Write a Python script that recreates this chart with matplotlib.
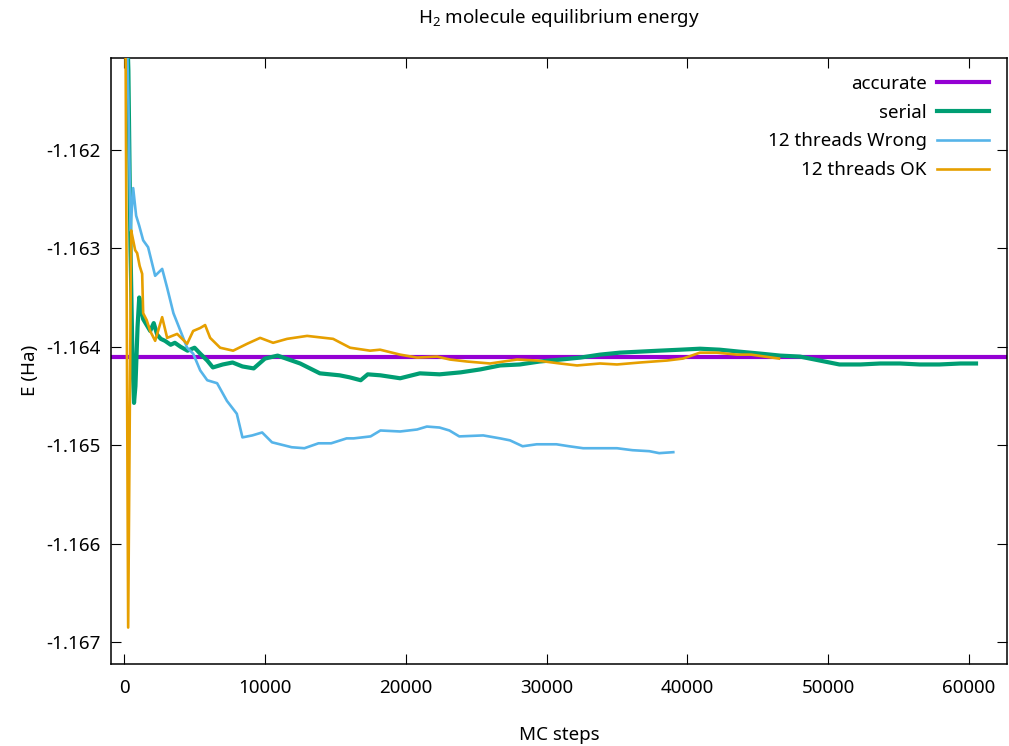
import numpy as np
import matplotlib
matplotlib.use("Agg")
import matplotlib.pyplot as plt

plt.rcParams['font.family'] = ['Noto Sans', 'DejaVu Sans']
plt.rcParams['mathtext.fontset'] = 'custom'
plt.rcParams['mathtext.rm'] = 'Noto Sans'
plt.rcParams['mathtext.it'] = 'Noto Sans:italic'

FS = 13.5

# reference energy
accurate_e = -1.16410

# serial run
serial_steps = [50, 300, 450, 600, 700, 800, 950, 1070, 1200, 1350, 1600, 1850, 2100,
                2350, 2600, 2900, 3300, 3600, 4000, 4500, 5000, 5400, 5900, 6300, 7000,
                7700, 8400, 9200, 10000, 10900, 11700, 12500, 13200, 13900, 15300, 16000,
                16800, 17300, 18200, 19600, 21000, 22400, 23900, 25300, 26700, 28100,
                29500, 31000, 32400, 33800, 35200, 36600, 38000, 39500, 40900, 42300,
                43700, 45200, 46600, 48000, 49400, 50800, 52300, 53700, 55100, 56500,
                57900, 59400, 60500]
serial_e = [-1.16000, -1.16120, -1.16300, -1.16420, -1.16457, -1.16440, -1.16380,
            -1.16350, -1.16362, -1.16372, -1.16378, -1.16384, -1.16376, -1.16388,
            -1.16392, -1.16394, -1.16398, -1.16396, -1.16400, -1.16404, -1.16401,
            -1.16407, -1.16414, -1.16421, -1.16418, -1.16416, -1.16420, -1.16422,
            -1.16412, -1.16409, -1.16413, -1.16417, -1.16422, -1.16427, -1.16429,
            -1.16431, -1.16434, -1.16428, -1.16429, -1.16432, -1.16427, -1.16428,
            -1.16426, -1.16423, -1.16419, -1.16418, -1.16415, -1.16413, -1.16411,
            -1.16408, -1.16406, -1.16405, -1.16404, -1.16403, -1.16402, -1.16403,
            -1.16405, -1.16407, -1.16409, -1.16410, -1.16414, -1.16418, -1.16418,
            -1.16417, -1.16417, -1.16418, -1.16418, -1.16417, -1.16417]

# 12 threads, wrong seeding
wrong_steps = [70, 300, 450, 640, 850, 1065, 1350, 1700, 2200, 2700, 3050, 3500, 4000,
               4470, 4900, 5400, 5900, 6600, 7300, 8000, 8400, 9100, 9800, 10500, 11900,
               12800, 13800, 14700, 15800, 16300, 17500, 18200, 19600, 20800, 21500,
               22400, 23100, 23800, 25500, 26700, 27400, 28300, 29300, 30700, 31600,
               32600, 35000, 36100, 37300, 38000, 39000]
wrong_e = [-1.16000, -1.16150, -1.16282, -1.16239, -1.16267, -1.16277, -1.16292,
           -1.16299, -1.16328, -1.16321, -1.16340, -1.16366, -1.16384, -1.16401,
           -1.16407, -1.16424, -1.16434, -1.16437, -1.16455, -1.16468, -1.16492,
           -1.16490, -1.16487, -1.16497, -1.16502, -1.16503, -1.16498, -1.16498,
           -1.16493, -1.16493, -1.16491, -1.16485, -1.16486, -1.16484, -1.16481,
           -1.16482, -1.16485, -1.16491, -1.16490, -1.16493, -1.16495, -1.16501,
           -1.16499, -1.16499, -1.16501, -1.16503, -1.16503, -1.16505, -1.16506,
           -1.16508, -1.16507]

# 12 threads, fixed
ok_steps = [70, 284, 497, 640, 781, 923, 1100, 1278, 1349, 1600, 1846, 2201, 2698, 3053,
            3763, 4473, 4899, 5396, 5750, 6106, 6816, 7739, 8733, 9656, 10579, 11573,
            12993, 14839, 16046, 17466, 18176, 19596, 20803, 22223, 23146, 24353, 25986,
            27903, 29323, 30956, 32163, 33796, 35003, 36636, 38553, 39689, 40896, 42103,
            43523, 44517, 46505]
ok_e = [-1.16000, -1.16685, -1.16282, -1.16292, -1.16302, -1.16305, -1.16318, -1.16326,
        -1.16366, -1.16373, -1.16384, -1.16394, -1.16370, -1.16391, -1.16387, -1.16397,
        -1.16384, -1.16381, -1.16378, -1.16391, -1.16401, -1.16404, -1.16397, -1.16391,
        -1.16396, -1.16392, -1.16389, -1.16392, -1.16401, -1.16404, -1.16403, -1.16408,
        -1.16411, -1.16410, -1.16413, -1.16415, -1.16417, -1.16413, -1.16414, -1.16417,
        -1.16419, -1.16417, -1.16418, -1.16416, -1.16414, -1.16412, -1.16406, -1.16406,
        -1.16408, -1.16408, -1.16412]

x_ticks = [0, 10000, 20000, 30000, 40000, 50000, 60000]
y_ticks = [-1.167, -1.166, -1.165, -1.164, -1.163, -1.162]

fig = plt.figure(figsize=(10.09, 7.46), dpi=100)
ax = fig.add_axes([0.1105, 0.1099, 0.8875, 0.8123])

ax.axhline(accurate_e, color='#9400d3', lw=3.0, label='accurate', zorder=2)
ax.plot(serial_steps, serial_e, color='#009e73', lw=3.0, label='serial', zorder=3)
ax.plot(wrong_steps, wrong_e, color='#56b4e9', lw=1.9, label='12 threads Wrong', zorder=4)
ax.plot(ok_steps, ok_e, color='#e69f00', lw=1.9, label='12 threads OK', zorder=5)

ax.set_xlim(-900, 62700)
ax.set_ylim(-1.16722, -1.16107)
ax.set_xticks(x_ticks)
ax.set_yticks(y_ticks)
ax.set_yticklabels(['%.3f' % v for v in y_ticks])
ax.tick_params(direction='in', length=7.5, width=0.8, top=True, right=True,
               labelsize=FS, colors='black')
ax.tick_params(axis='x', pad=11)
ax.tick_params(axis='y', pad=8)
for s in ax.spines.values():
    s.set_linewidth(1.1)

leg = ax.legend(loc='upper right', bbox_to_anchor=(0.980, 0.972), borderaxespad=0,
                borderpad=0, frameon=False, markerfirst=False, fontsize=FS,
                handlelength=2.77, handletextpad=0.55, labelspacing=0.57)

fig.text(559 / 1009, 1 - 18 / 746, 'H$_2$ molecule equilibrium energy',
         ha='center', va='center', fontsize=FS)
fig.text(30 / 1009, 1 - 370 / 746, 'E (Ha)', rotation=90, ha='center', va='center',
         fontsize=FS)
fig.text(559 / 1009, 1 - 735 / 746, 'MC steps', ha='center', va='center', fontsize=FS)

fig.savefig('out.png', dpi=100)
